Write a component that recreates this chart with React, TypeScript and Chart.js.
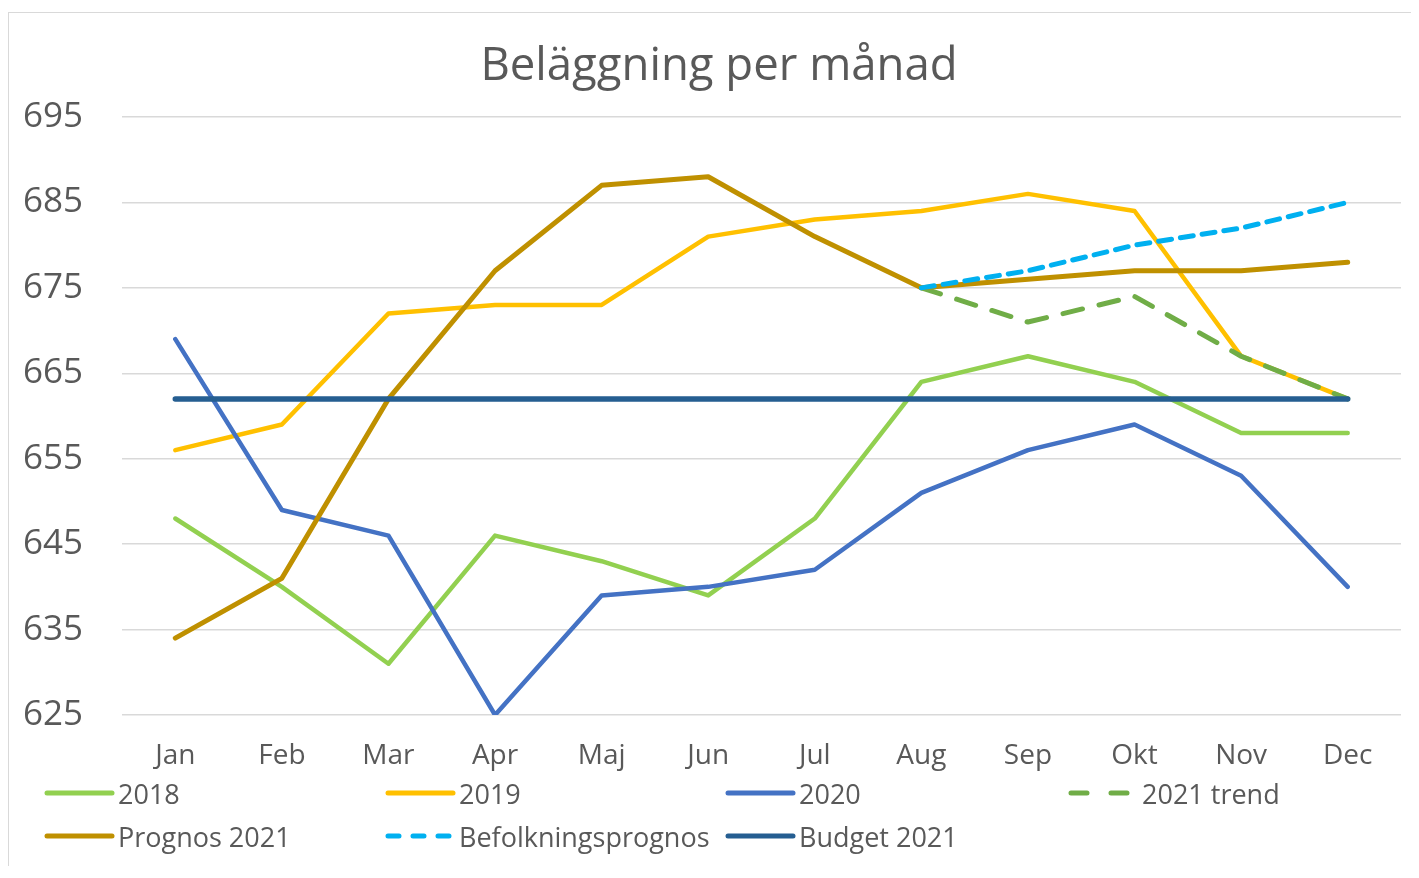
import React, { useEffect, useRef } from "react";
import { Chart, registerables } from "chart.js";

Chart.register(...registerables);

const months = ["Jan", "Feb", "Mar", "Apr", "Maj", "Jun", "Jul", "Aug", "Sep", "Okt", "Nov", "Dec"];
const s2018 = [648, 640, 631, 646, 643, 639, 648, 664, 667, 664, 658, 658];
const s2019 = [656, 659, 672, 673, 673, 681, 683, 684, 686, 684, 667, 662];
const s2020 = [669, 649, 646, 625, 639, 640, 642, 651, 656, 659, 653, 640];
const trend2021 = [null, null, null, null, null, null, null, 675, 671, 674, 667, 662];
const prognos2021 = [634, 641, 662, 677, 687, 688, 681, 675, 676, 677, 677, 678];
const befolkning = [null, null, null, null, null, null, null, 675, 677, 680, 682, 685];
const budget2021 = [662, 662, 662, 662, 662, 662, 662, 662, 662, 662, 662, 662];
const yMin = 625;
const yMax = 695;
const yStep = 10;

const title = "Beläggning per månad";
const FONT = "'Open Sans', sans-serif";
const TEXT = "#595959";

const series = [
  { label: "2018", data: s2018, color: "#92D050", dash: [] as number[], width: 4.5 },
  { label: "2019", data: s2019, color: "#FFC000", dash: [] as number[], width: 4.5 },
  { label: "2020", data: s2020, color: "#4472C4", dash: [] as number[], width: 4.5 },
  { label: "2021 trend", data: trend2021, color: "#70AD47", dash: [20, 17], width: 5 },
  { label: "Prognos 2021", data: prognos2021, color: "#BF9000", dash: [] as number[], width: 5 },
  { label: "Befolkningsprognos", data: befolkning, color: "#00B0F0", dash: [13, 9], width: 5 },
  { label: "Budget 2021", data: budget2021, color: "#255E91", dash: [] as number[], width: 5.5 },
];

const legendCols = [35, 376, 716, 1059];
const legendRows = [780, 823];

export default function App() {
  const ref = useRef<HTMLCanvasElement | null>(null);

  useEffect(() => {
    if (!ref.current) return;
    const chart = new Chart(ref.current, {
      type: "line",
      data: {
        labels: months,
        datasets: series.map((s, i) => ({
          label: s.label,
          data: s.data,
          borderColor: s.color,
          backgroundColor: s.color,
          borderWidth: s.width,
          borderDash: s.dash,
          borderCapStyle: "round" as const,
          borderJoinStyle: "round" as const,
          pointRadius: 0,
          tension: 0,
          spanGaps: false,
          fill: false,
          order: series.length - 1 - i,
        })),
      },
      options: {
        animation: false,
        responsive: false,
        maintainAspectRatio: false,
        layout: { padding: { left: 0, right: 10, top: 104, bottom: 0 } },
        plugins: {
          legend: { display: false },
          title: { display: false },
          tooltip: { enabled: false },
        },
        scales: {
          x: {
            offset: true,
            grid: { display: false, drawTicks: false },
            border: { display: false },
            ticks: { color: TEXT, font: { family: FONT, size: 28 }, padding: 24, maxRotation: 0, autoSkip: false },
            afterFit: (s: any) => {
              s.height = 155;
            },
          },
          y: {
            min: yMin,
            max: yMax,
            grid: { color: "#d9d9d9", lineWidth: 1.5, drawTicks: false },
            border: { display: false },
            ticks: { stepSize: yStep, color: TEXT, font: { family: FONT, size: 35 }, padding: 39 },
            afterFit: (s: any) => {
              s.width = 113;
            },
          },
        },
      },
    });
    return () => chart.destroy();
  }, []);

  return (
    <div
      style={{
        position: "relative",
        top: 4,
        width: 1402,
        height: 857,
        borderLeft: "1px solid #d9d9d9",
        borderTop: "1px solid #d9d9d9",
        fontFamily: FONT,
        color: TEXT,
      }}
    >
      <canvas ref={ref} width={1402} height={857} style={{ position: "absolute", left: 0, top: 0, width: 1402, height: 857 }} />
      <div
        style={{
          position: "absolute",
          left: 9,
          width: 1402,
          top: 27,
          textAlign: "center",
          fontSize: 45.5,
          lineHeight: "45px",
          whiteSpace: "nowrap",
        }}
      >
        {title}
      </div>
      {series.map((s, i) => {
        const col = i % 4;
        const row = Math.floor(i / 4);
        return (
          <div
            key={s.label}
            style={{
              position: "absolute",
              left: legendCols[col],
              top: legendRows[row] - 20,
              height: 40,
              display: "flex",
              alignItems: "center",
              fontSize: 27,
              whiteSpace: "nowrap",
            }}
          >
            <svg width={74} height={12} style={{ display: "block" }}>
              <line
                x1={3}
                y1={6}
                x2={68}
                y2={6}
                stroke={s.color}
                strokeWidth={5}
                strokeLinecap="round"
                strokeDasharray={s.label === "2021 trend" ? "16 24" : s.label === "Befolkningsprognos" ? "11 14" : undefined}
              />
            </svg>
            <span>{s.label}</span>
          </div>
        );
      })}
    </div>
  );
}
